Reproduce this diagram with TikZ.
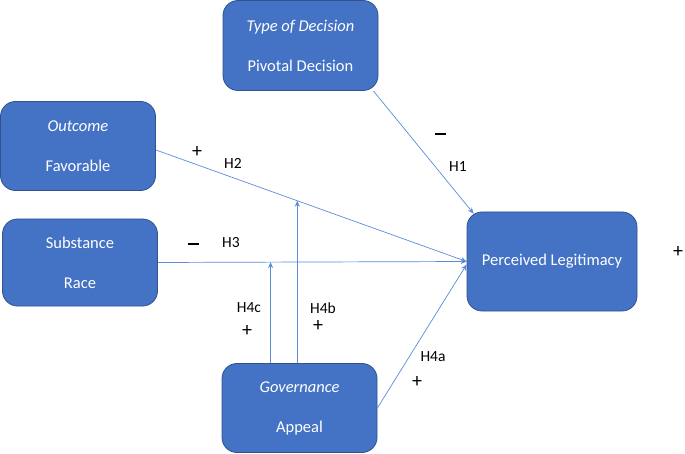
\documentclass[tikz,border=0pt]{standalone}
\usepackage{fontspec}
\setmainfont{Carlito}
\usetikzlibrary{arrows.meta,calc}
\definecolor{boxfill}{HTML}{4472C4}
\definecolor{boxline}{HTML}{2F528F}
\definecolor{linkblue}{HTML}{5B8BD9}
\tikzset{
  box/.style={draw=boxline, line width=0.8pt, fill=boxfill, rounded corners=15pt,
    text=white, align=center, inner sep=0pt,
    font=\fontsize{16.5}{40}\selectfont},
  link/.style={draw=linkblue, line width=0.7pt, -{Stealth[length=6pt,width=5pt]}},
  lbl/.style={text=black, font=\fontsize{15.5}{18}\selectfont, inner sep=0pt},
  sign/.style={text=black, font=\fontsize{20}{22}\selectfont, inner sep=0pt}
}
\newcommand{\minussign}{\rule{11pt}{1.7pt}}
\begin{document}
\begin{tikzpicture}[x=1pt,y=-1pt]
\useasboundingbox (0,0) rectangle (685,454);
\node[box, minimum width=155pt, minimum height=90pt] (type) at (300.5,45.5) {\textit{Type of Decision}\\Pivotal Decision};
\node[box, minimum width=155pt, minimum height=89pt] (out) at (78,146) {\textit{Outcome}\\Favorable};
\node[box, minimum width=155pt, minimum height=87pt] (sub) at (80,262.5) {Substance\\Race};
\node[box, minimum width=170pt, minimum height=99pt] (pl) at (552,261.5) {Perceived Legitimacy};
\node[box, minimum width=155pt, minimum height=89pt] (gov) at (299.5,408) {\textit{Governance}\\Appeal};

\draw[link] ([xshift=-5pt]type.south east) -- ([xshift=7pt,yshift=-2pt]pl.north west);
\draw[link] ([yshift=-4pt]out.east) -- coordinate[pos=0.455] (m2) (pl.west);
\draw[link] (sub.east) -- coordinate[pos=0.365] (m3) (pl.west);
\draw[link] (gov.east) -- ([yshift=-3pt]pl.west);
\draw[link] (gov.north -| m2) -- (m2);
\draw[link] (gov.north -| m3) -- (m3);

\node[sign] (s1) at (440,134) {\minussign};
\node[lbl] (h1) at (458,167) {H1};
\node[sign] (s2) at (197,152) {+};
\node[lbl] (h2) at (233,163) {H2};
\node[sign] (s3) at (193,244) {\minussign};
\node[lbl] (h3) at (231,243) {H3};
\node[lbl] (h4c) at (249,308) {H4c};
\node[sign] (s4c) at (247,331) {+};
\node[lbl] (h4b) at (323,308) {H4b};
\node[sign] (s4b) at (318,326) {+};
\node[lbl] (h4a) at (433,357) {H4a};
\node[sign] (s4a) at (417,382) {+};
\node[sign] (sr) at (678,252) {+};
\end{tikzpicture}
\end{document}
